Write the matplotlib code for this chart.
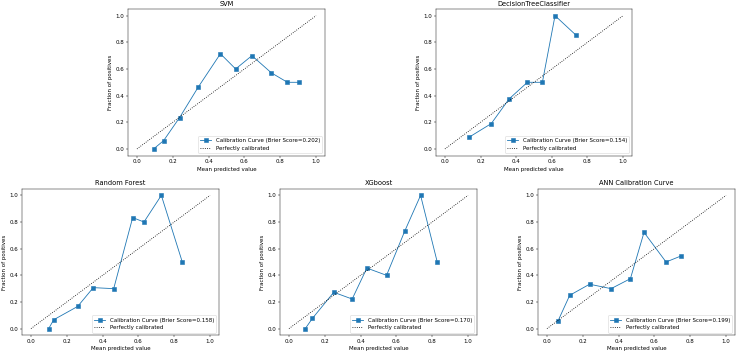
import matplotlib
matplotlib.use("Agg")
import matplotlib.pyplot as plt

# ==========================================================
# DATI
# ==========================================================
svm_x = [0.093, 0.149, 0.238, 0.341, 0.466, 0.551, 0.642, 0.750, 0.840, 0.907]
svm_y = [0.0, 0.0625, 0.2353, 0.4615, 0.7143, 0.6, 0.70, 0.5714, 0.5, 0.5]

dt_x = [0.138, 0.260, 0.360, 0.463, 0.547, 0.618, 0.733]
dt_y = [0.09, 0.19, 0.375, 0.5, 0.5, 1.0, 0.857]

rf_x = [0.099, 0.127, 0.261, 0.348, 0.462, 0.568, 0.631, 0.728, 0.845]
rf_y = [0.0, 0.0667, 0.1667, 0.3077, 0.30, 0.8333, 0.80, 1.0, 0.5]

xgb_x = [0.091, 0.131, 0.250, 0.353, 0.435, 0.545, 0.647, 0.735, 0.828]
xgb_y = [0.0, 0.0769, 0.2727, 0.2222, 0.4545, 0.40, 0.7333, 1.0, 0.5]

ann_x = [0.061, 0.127, 0.238, 0.358, 0.466, 0.542, 0.665, 0.749]
ann_y = [0.0556, 0.25, 0.3333, 0.30, 0.375, 0.7222, 0.50, 0.5455]

titles = ["SVM", "DecisionTreeClassifier", "Random Forest", "XGboost", "ANN Calibration Curve"]
brier = [0.202, 0.154, 0.158, 0.170, 0.199]
curves = [(svm_x, svm_y), (dt_x, dt_y), (rf_x, rf_y), (xgb_x, xgb_y), (ann_x, ann_y)]

# ==========================================================
# FIGURA
# ==========================================================
W, H = 736, 354
DPI = 40
fig = plt.figure(figsize=(W / DPI, H / DPI), dpi=DPI)

# posizioni assi in pixel: (sinistra, alto, larghezza, altezza)
boxes = [(128, 9, 197, 146.6), (436, 9, 196, 146.6),
         (22, 188.7, 197, 146.6), (280, 188.7, 197, 146.6), (538, 188.7, 197, 146.6)]

for (bx, by, bw, bh), title, score, (xs, ys) in zip(boxes, titles, brier, curves):
    ax = fig.add_axes([bx / W, 1 - (by + bh) / H, bw / W, bh / H])
    ax.plot(xs, ys, "s-", label=f"Calibration Curve (Brier Score={score:.3f})")
    ax.plot([0, 1], [0, 1], "k:", label="Perfectly calibrated")
    ax.set_title(title)
    ax.set_xlabel("Mean predicted value")
    ax.set_ylabel("Fraction of positives")
    ax.legend(loc="lower right")

fig.savefig("out.png", dpi=DPI)
plt.close(fig)
